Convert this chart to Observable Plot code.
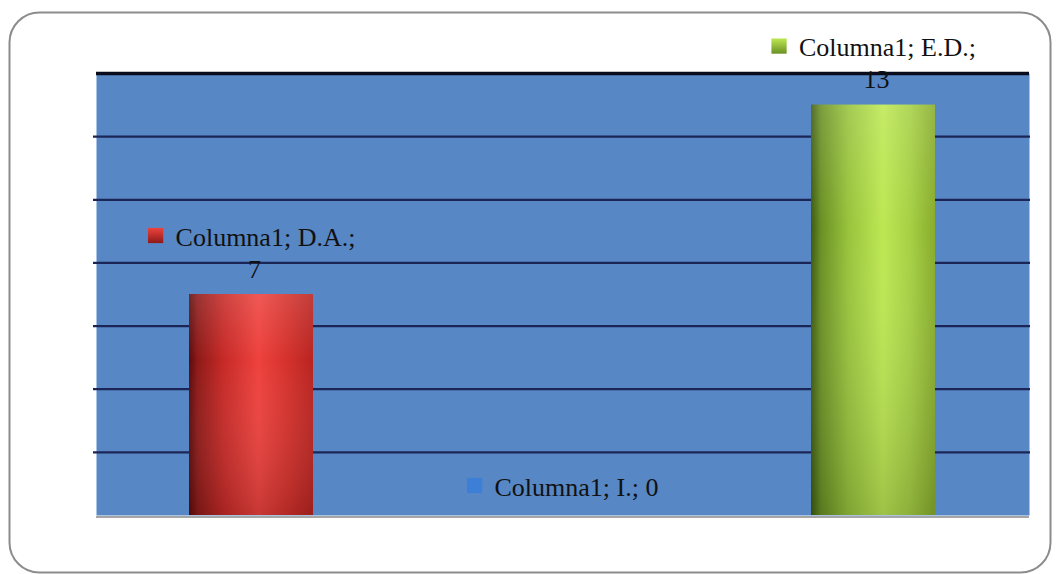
<!DOCTYPE html>
<html>
<head>
<meta charset="utf-8">
<script src="https://cdn.jsdelivr.net/npm/d3@7"></script>
<script src="https://cdn.jsdelivr.net/npm/@observablehq/plot@0.6"></script>
<style>
  html, body { margin: 0; padding: 0; background: #ffffff; }
  #chart { width: 1057px; height: 574px; }
</style>
</head>
<body>
<div id="chart"></div>
<script>
// ---- data ----
const seriesName = "Columna1";
const categories = ["D.A.", "I.", "E.D."];
const values = [7, 0, 13];
const gridTicks = [2, 4, 6, 8, 10, 12];
const topTick = [14];
const yDomain = [0, 14];

// ---- styles ----
const barPalettes = [
  // D.A. red cylinder
  [["0%", "#5a0c0c"], ["7%", "#8e1a18"], ["28%", "#c62a27"], ["56%", "#ee423e"], ["78%", "#d6322d"], ["100%", "#b82420"]],
  // I. blue
  [["0%", "#1c4f9a"], ["50%", "#3d7fd6"], ["100%", "#2b63b0"]],
  // E.D. green cylinder
  [["0%", "#3e5a12"], ["8%", "#6a9024"], ["30%", "#98c33c"], ["58%", "#bde853"], ["80%", "#a6d044"], ["100%", "#88ac2c"]]
];
const fontFamily = "'Liberation Serif', 'Times New Roman', serif";
const fontSize = 26;

const data = categories.map((c, i) => ({category: c, value: values[i], idx: i}));

// text measuring
const ctx = document.createElement("canvas").getContext("2d");
ctx.font = `${fontSize}px 'Liberation Serif'`;
const measure = s => ctx.measureText(s).width;

const marks = [
  Plot.frame({fill: "#5787c5"}),
  Plot.ruleY([0], {stroke: "#a5a5a5", strokeWidth: 2, dy: 1.5}),
  Plot.ruleY(gridTicks, {stroke: "#1b2657", strokeWidth: 2.2, insetLeft: -3, insetRight: -1}),
  Plot.ruleY(topTick, {stroke: "#080c1c", strokeWidth: 3.5})
];

data.forEach(d => {
  marks.push(Plot.barY([d], {x: "category", y: "value", fill: `url(#barGrad${d.idx})`}));
  marks.push(Plot.barY([d], {x: "category", y: "value", fill: "url(#barShade)"}));
});

// data labels: "series; category; value" with legend key, wrapped like the original
data.forEach(d => {
  const full = `${seriesName}; ${d.category}; ${d.value}`;
  const wrap = measure(full) > 180;
  const line1 = wrap ? `${seriesName}; ${d.category};` : full;
  const w1 = measure(line1);
  const block = 16 + 12 + w1;
  const base1 = wrap ? -49 : -20;
  marks.push(Plot.text([d], {
    x: "category", y: "value", text: () => line1,
    textAnchor: "start", dx: -block / 2 + 28, dy: base1 - 0.32 * fontSize,
    fill: "#111111", fontSize
  }));
  marks.push(Plot.dot([d], {
    x: "category", y: "value", symbol: "square", r: 8.6,
    dx: -block / 2 + 8, dy: base1 - 10,
    fill: `url(#keyGrad${d.idx})`, stroke: "none"
  }));
  if (wrap) {
    marks.push(Plot.text([d], {
      x: "category", y: "value", text: dd => String(dd.value),
      textAnchor: "middle", dx: 3, dy: -17 - 0.32 * fontSize,
      fill: "#111111", fontSize
    }));
  }
});

// outer rounded border
marks.push(Plot.frame({stroke: "#8c8c8c", strokeWidth: 2, rx: 30,
  insetLeft: -87, insetRight: -21, insetTop: -61, insetBottom: -57}));

const chart = Plot.plot({
  width: 1057,
  height: 574,
  marginLeft: 96,
  marginRight: 28,
  marginTop: 73,
  marginBottom: 59,
  style: {fontFamily, fontSize: `${fontSize}px`, background: "#ffffff", overflow: "visible"},
  x: {type: "band", domain: categories, paddingInner: 0.6, paddingOuter: 0.3, axis: null},
  y: {domain: yDomain, axis: null},
  marks
});

// gradients
const svg = d3.select(chart);
const defs = svg.insert("defs", ":first-child");
barPalettes.forEach((stops, i) => {
  const g = defs.append("linearGradient").attr("id", `barGrad${i}`)
    .attr("x1", "0").attr("y1", "0").attr("x2", "1").attr("y2", "0");
  stops.forEach(([o, c]) => g.append("stop").attr("offset", o).attr("stop-color", c));
  const k = defs.append("linearGradient").attr("id", `keyGrad${i}`)
    .attr("x1", "0").attr("y1", "0").attr("x2", "0").attr("y2", "1");
  k.append("stop").attr("offset", "0%").attr("stop-color", stops[3] ? stops[3][1] : stops[1][1]);
  k.append("stop").attr("offset", "100%").attr("stop-color", stops[1][1]);
});
const sh = defs.append("linearGradient").attr("id", "barShade")
  .attr("x1", "0").attr("y1", "0").attr("x2", "0").attr("y2", "1");
sh.append("stop").attr("offset", "0%").attr("stop-color", "#ffffff").attr("stop-opacity", 0.12);
sh.append("stop").attr("offset", "30%").attr("stop-color", "#ffffff").attr("stop-opacity", 0);
sh.append("stop").attr("offset", "100%").attr("stop-color", "#000000").attr("stop-opacity", 0.16);

document.getElementById("chart").appendChild(chart);
</script>
</body>
</html>
